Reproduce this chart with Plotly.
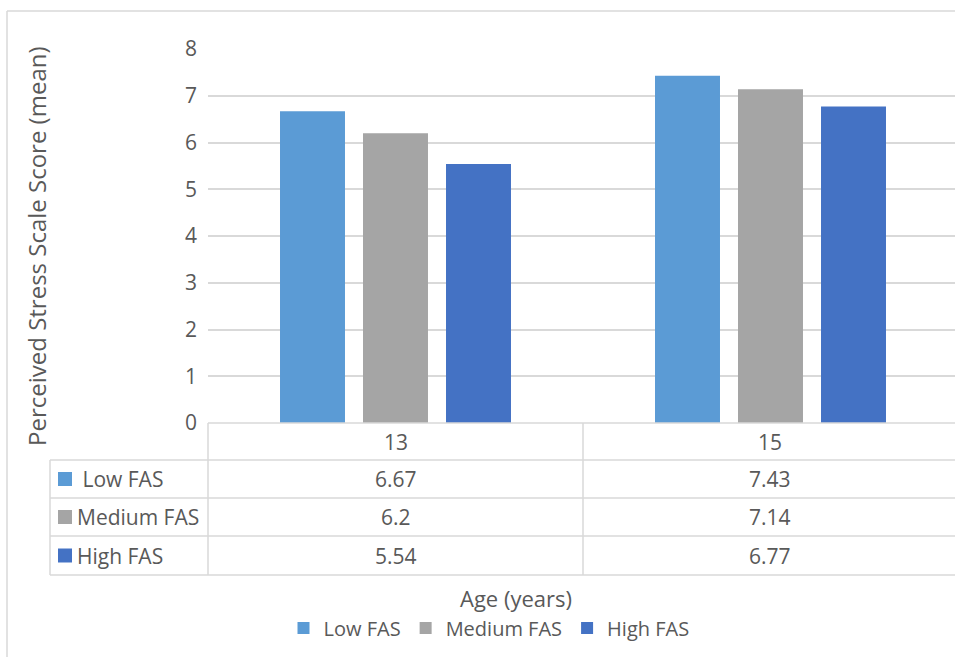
import plotly.graph_objects as go

categories = ["13", "15"]
series_names = ["Low FAS", "Medium FAS", "High FAS"]
low_fas = [6.67, 7.43]
medium_fas = [6.2, 7.14]
high_fas = [5.54, 6.77]
colors = ["#5B9BD5", "#A5A5A5", "#4472C4"]
y_ticks = [0, 1, 2, 3, 4, 5, 6, 7, 8]

series_values = [low_fas, medium_fas, high_fas]

W, H = 955, 657
L, R, T, B = 208, 0, 49, 234
PW = W - L - R
PH = H - T - B
TXT = "#595959"
GRID = "#D9D9D9"
FONT = "Open Sans"


def px(xp):
    return (xp - L) / PW


def py(yp):
    return (H - B - yp) / PH


fig = go.Figure()
for name, vals, col in zip(series_names, series_values, colors):
    fig.add_trace(go.Bar(x=categories, y=vals, name=name,
                         marker=dict(color=col, line=dict(width=0))))

shapes = []
annotations = []
line = dict(color=GRID, width=1.5)
# table horizontal lines
row_y = [423, 460, 498, 536, 575]
for i, yy in enumerate(row_y):
    x0 = 208 if i == 0 else 50
    shapes.append(dict(type="line", xref="paper", yref="paper", x0=px(x0), x1=1.0,
                       y0=py(yy), y1=py(yy), line=line))
# vertical lines
shapes.append(dict(type="line", xref="paper", yref="paper", x0=px(50), x1=px(50),
                   y0=py(460), y1=py(575), line=line))
for xx in [208, 583]:
    shapes.append(dict(type="line", xref="paper", yref="paper", x0=px(xx), x1=px(xx),
                       y0=py(423), y1=py(575), line=line))
# outer chart border
shapes.append(dict(type="line", xref="paper", yref="paper", x0=px(7), x1=px(7),
                   y0=py(11), y1=py(700), line=dict(color=GRID, width=1.5)))
shapes.append(dict(type="line", xref="paper", yref="paper", x0=px(7), x1=px(960),
                   y0=py(11), y1=py(11), line=dict(color=GRID, width=1.5)))

TF = 21
# header row
cat_centers = [396, 770]
for c, cx in zip(categories, cat_centers):
    annotations.append(dict(text=c, xref="paper", yref="paper", x=px(cx), y=py(441.5),
                            showarrow=False, xanchor="center", yanchor="middle",
                            font=dict(size=TF, color=TXT, family=FONT)))
row_centers = [479, 517, 555.5]
for name, vals, col, cy in zip(series_names, series_values, colors, row_centers):
    shapes.append(dict(type="rect", xref="paper", yref="paper", x0=px(58), x1=px(72),
                       y0=py(cy - 7), y1=py(cy + 7), fillcolor=col, line=dict(width=0)))
    label = " " + name if name == "Low FAS" else name
    annotations.append(dict(text=label, xref="paper", yref="paper", x=px(75), y=py(cy),
                            showarrow=False, xanchor="left", yanchor="middle",
                            font=dict(size=TF, color=TXT, family=FONT)))
    for v, cx in zip(vals, cat_centers):
        annotations.append(dict(text=f"{v:g}", xref="paper", yref="paper", x=px(cx), y=py(cy),
                                showarrow=False, xanchor="center", yanchor="middle",
                                font=dict(size=TF, color=TXT, family=FONT)))

# axis titles
annotations.append(dict(text="Age (years)", xref="paper", yref="paper", x=px(516), y=py(598),
                        showarrow=False, xanchor="center", yanchor="middle",
                        font=dict(size=22, color=TXT, family=FONT)))
annotations.append(dict(text="Perceived Stress Scale Score (mean)", xref="paper", yref="paper",
                        x=px(36), y=py(246), textangle=-90, showarrow=False,
                        xanchor="center", yanchor="middle",
                        font=dict(size=24, color=TXT, family=FONT)))

fig.update_layout(
    width=W, height=H,
    margin=dict(l=L, r=R, t=T, b=B),
    paper_bgcolor="white", plot_bgcolor="white",
    barmode="group", bargap=0.336, bargroupgap=0.217,
    font=dict(family=FONT, color=TXT),
    showlegend=True,
    legend=dict(orientation="h", x=px(489), xanchor="center", y=py(628), yanchor="middle",
                font=dict(size=20, color=TXT, family=FONT), itemsizing="constant",
                traceorder="normal", bgcolor="rgba(0,0,0,0)"),
    shapes=shapes, annotations=annotations,
    xaxis=dict(type="category", range=[-0.5, -0.5 + PW / 375.0], showticklabels=False,
               showgrid=False, zeroline=False, showline=False, ticks=""),
    yaxis=dict(range=[0, 8], tickvals=y_ticks, showgrid=True, gridcolor=GRID, gridwidth=1.5,
               zeroline=False, showline=False, ticks="", ticklabelstandoff=10,
               tickfont=dict(size=21, color=TXT, family=FONT)),
)

fig.write_html("out.html", config={"displayModeBar": False},
               post_script="document.body.style.margin='0';document.body.style.overflow='hidden';")
